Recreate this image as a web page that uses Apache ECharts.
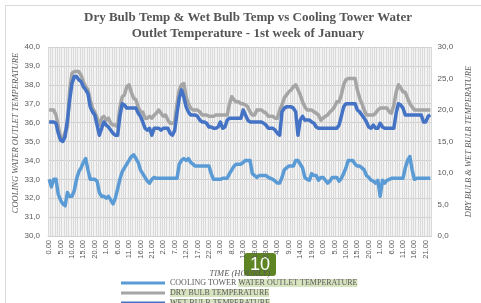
<!DOCTYPE html>
<html>
<head>
<meta charset="utf-8">
<script src="https://cdn.jsdelivr.net/npm/echarts@6/dist/echarts.min.js"></script>
<style>
  html, body { margin: 0; padding: 0; background: #fff; }
  #chart { width: 481px; height: 303px; }
</style>
</head>
<body>
<div id="chart"></div>
<script>
// hourly labels, one week
const hours = ['0.00', '1.00', '2.00', '3.00', '4.00', '5.00', '6.00', '7.00', '8.00', '9.00', '10.00', '11.00',
  '12.00', '13.00', '14.00', '15.00', '16.00', '17.00', '18.00', '19.00', '20.00', '21.00', '22.00', '23.00']
const days = 7

// cooling tower water outlet temperature (left axis)
const coolingTower = [
  33.0, 32.6, 33.0, 33.0, 32.2, 31.9, 31.7, 31.6, 32.3, 32.1,
  32.1, 32.4, 33.0, 33.4, 33.6, 33.9, 34.1, 33.5, 33.0, 33.0,
  33.0, 32.9, 32.3, 32.1, 32.1, 32.0, 32.1, 31.9, 31.7, 32.0,
  32.5, 33.0, 33.4, 33.6, 33.8, 34.0, 34.2, 34.3, 34.1, 33.9,
  33.5, 33.3, 33.1, 32.9, 32.8, 33.0, 33.1, 33.05, 33.05, 33.05,
  33.05, 33.05, 33.05, 33.05, 33.05, 33.05, 33.05, 33.8, 34.0, 34.1,
  34.0, 34.1, 33.9, 33.8, 33.7, 33.7, 33.7, 33.7, 33.7, 33.7,
  33.7, 33.3, 33.0, 33.0, 33.0, 33.0, 33.05, 33.05, 33.05, 33.3,
  33.5, 33.7, 33.8, 33.8, 33.8, 33.9, 34.0, 34.0, 34.0, 33.3,
  33.2, 33.1, 33.2, 33.2, 33.2, 33.2, 33.1, 33.05, 33.0, 32.9,
  32.8, 32.8, 33.1, 33.5, 33.6, 33.7, 33.7, 33.7, 34.0, 34.0,
  33.8, 33.6, 33.1, 33.0, 32.95, 33.3, 33.2, 33.2, 32.95, 33.1,
  33.1, 32.95, 32.8, 32.9, 33.1, 33.1, 33.1, 32.9, 33.05, 33.3,
  33.6, 34.0, 34.0, 34.0, 33.8, 33.7, 33.7, 33.6, 33.5, 33.2,
  33.1, 32.95, 32.9, 32.8, 32.95, 32.1, 32.95, 32.8, 32.95, 33.0,
  33.05, 33.05, 33.05, 33.05, 33.05, 33.05, 33.6, 34.0, 34.2, 33.5,
  33.0, 33.05, 33.05, 33.05, 33.05, 33.05, 33.05, 33.05
]

// dry bulb temperature (right axis)
const dryBulb = [
  20.0, 20.0, 20.0, 19.2, 17.5, 15.5, 15.4, 16.5, 17.3, 23.2,
  25.8, 26.1, 26.1, 26.1, 25.5, 24.5, 23.7, 23.2, 21.6, 20.3,
  19.7, 18.7, 17.6, 18.7, 19.0, 18.4, 18.7, 17.9, 17.6, 17.6,
  17.3, 20.5, 22.1, 22.4, 23.7, 24.0, 22.8, 21.9, 21.6, 20.5,
  19.7, 19.7, 18.7, 18.7, 19.0, 18.7, 19.2, 19.5, 20.0, 19.5,
  19.0, 19.2, 18.4, 17.9, 17.9, 18.1, 21.0, 23.2, 24.0, 24.2,
  22.1, 21.0, 20.3, 20.0, 20.0, 20.0, 19.7, 19.2, 19.2, 19.2,
  19.0, 19.0, 19.0, 19.2, 19.2, 19.2, 19.2, 19.2, 19.2, 21.0,
  22.1, 21.6, 21.3, 21.3, 21.0, 21.0, 20.8, 20.5, 19.7, 19.2,
  19.2, 20.0, 20.0, 20.0, 19.7, 19.5, 19.0, 19.0, 19.0, 18.7,
  18.7, 20.0, 20.8, 21.9, 22.4, 22.9, 23.2, 23.7, 24.0, 23.2,
  22.4, 21.3, 20.5, 20.0, 20.0, 20.0, 19.7, 19.5, 19.2, 18.4,
  18.7, 19.0, 19.2, 19.7, 20.0, 20.5, 21.3, 21.3, 22.4, 24.0,
  24.8, 25.0, 25.0, 25.0, 25.0, 23.2, 21.9, 21.0, 20.0, 19.2,
  19.2, 19.2, 19.2, 19.5, 20.0, 20.3, 20.3, 20.3, 20.3, 19.7,
  19.5, 20.8, 22.8, 24.0, 23.5, 22.9, 22.8, 21.9, 21.0, 20.5,
  20.0, 20.0, 20.0, 20.0, 20.0, 20.0, 20.0, 20.0
]

// wet bulb temperature (right axis)
const wetBulb = [
  18.1, 18.1, 18.1, 17.9, 16.3, 15.2, 15.0, 15.8, 18.4, 21.6,
  24.2, 25.3, 25.3, 24.8, 24.5, 23.7, 23.2, 22.6, 20.5, 19.7,
  19.2, 17.6, 16.0, 17.1, 18.1, 17.6, 17.3, 16.8, 16.3, 16.0,
  16.0, 19.0, 21.0, 20.8, 20.3, 20.3, 20.3, 20.3, 20.3, 19.5,
  19.0, 18.1, 17.1, 16.8, 17.1, 16.0, 17.1, 17.1, 17.1, 16.8,
  17.1, 17.1, 17.1, 16.3, 16.0, 16.8, 19.5, 21.9, 23.2, 22.1,
  20.5, 19.7, 19.2, 19.2, 19.2, 19.0, 18.4, 18.1, 18.1, 17.9,
  17.3, 17.3, 17.1, 17.1, 17.3, 18.1, 17.1, 17.3, 18.4, 18.7,
  18.7, 18.7, 18.7, 18.7, 18.7, 20.0, 19.2, 18.4, 18.1, 18.1,
  18.1, 18.1, 18.1, 18.1, 17.9, 17.6, 17.1, 17.1, 17.1, 16.8,
  16.3, 16.0, 19.7, 20.3, 20.5, 20.5, 20.5, 20.3, 19.7, 16.0,
  18.4, 19.0, 18.4, 18.4, 18.4, 18.1, 17.9, 17.3, 17.1, 17.1,
  17.1, 17.1, 17.1, 17.1, 17.1, 17.1, 17.1, 17.6, 19.0, 20.5,
  21.0, 21.0, 21.0, 21.0, 21.0, 20.0, 19.7, 19.2, 18.7, 18.1,
  17.3, 17.1, 17.6, 17.1, 17.1, 17.9, 17.3, 17.1, 17.1, 17.1,
  17.1, 17.1, 19.5, 21.0, 20.8, 20.3, 19.2, 19.2, 19.2, 19.2,
  19.2, 19.2, 19.2, 19.2, 18.1, 18.1, 19.0, 19.2
]

const categories = []
for (let d = 0; d < days; d++) categories.push(...hours)

const textColor = '#595959'
const nameFont = { fontFamily: 'Liberation Serif', fontStyle: 'italic', fontSize: 8.5, color: textColor }

const chart = echarts.init(document.getElementById('chart'), null, { renderer: 'canvas' })

const option = {
  backgroundColor: '#fff',
  animation: false,
  graphic: [
    {
      type: 'rect',
      shape: { x: 5.5, y: 5.5, width: 490, height: 320 },
      style: { fill: 'none', stroke: '#d9d9d9', lineWidth: 1 },
      silent: true
    },
    {
      type: 'text',
      x: 248, y: 10,
      style: {
        text: 'Dry Bulb Temp & Wet Bulb Temp vs Cooling Tower Water\nOutlet Temperature - 1st week of January',
        align: 'center', verticalAlign: 'top',
        font: 'bold 13px "Liberation Serif"', lineHeight: 16, fill: '#555'
      }
    },
    {
      // 左轴标题，位置比轴中心略高
      type: 'text',
      x: 16, y: 133, rotation: Math.PI / 2,
      style: {
        text: 'COOLING WATER OUTLET TEMPERATURE',
        align: 'center', verticalAlign: 'middle',
        font: 'italic 8.5px "Liberation Serif"', fill: textColor
      }
    },
    {
      // 角标
      type: 'group', x: 244, y: 253, z: 100,
      children: [
        { type: 'rect', shape: { x: 0, y: 0, width: 32, height: 23, r: 3 }, style: { fill: '#5e8424' } },
        { type: 'text', x: 16, y: 12, style: { text: '10', align: 'center', verticalAlign: 'middle', font: '18px "Liberation Sans"', fill: '#fff' } }
      ]
    }
  ],
  grid: {
    left: 48, right: 34, top: 47, bottom: 67,
    show: true, backgroundColor: '#f3f3f3', borderWidth: 0
  },
  legend: {
    orient: 'vertical',
    left: 116, top: 273, height: 60,
    icon: 'rect',
    itemWidth: 44, itemHeight: 3, itemGap: 0,
    textStyle: {
      fontFamily: 'Liberation Serif', fontSize: 8, color: textColor, lineHeight: 10,
      rich: {
        n: { fontFamily: 'Liberation Serif', fontSize: 8, color: textColor, lineHeight: 10 },
        h: { fontFamily: 'Liberation Serif', fontSize: 8, color: textColor, lineHeight: 10, backgroundColor: '#d8e4c0' }
      }
    },
    formatter: function (name) {
      if (name.indexOf('COOLING') === 0) return '{n|COOLING TOWER }{h|WATER OUTLET TEMPERATURE}'
      return '{h|' + name + '}'
    }
  },
  xAxis: {
    type: 'category',
    data: categories,
    boundaryGap: true,
    name: 'TIME (HOURLY)',
    nameLocation: 'middle',
    nameGap: 33,
    nameTextStyle: nameFont,
    axisLine: { show: true, lineStyle: { color: '#d0d0d0' } },
    axisTick: { show: false },
    axisLabel: {
      interval: 4, rotate: 90, margin: 4,
      fontFamily: 'Liberation Sans', fontSize: 7.5, color: textColor
    },
    splitLine: { show: true, interval: 0, lineStyle: { color: '#dadada', width: 1 } }
  },
  yAxis: [
    {
      type: 'value', min: 30, max: 40, interval: 1,
      axisLine: { show: false }, axisTick: { show: false },
      axisLabel: {
        margin: 8, fontFamily: 'Liberation Sans', fontSize: 8, color: textColor,
        formatter: v => v.toFixed(1).replace('.', ',')
      },
      splitLine: { show: true, lineStyle: { color: '#cccccc', width: 1 } }
    },
    {
      type: 'value', min: 0, max: 30, interval: 5,
      name: 'DRY BULB & WET BULB TEMPERATURE',
      nameLocation: 'middle', nameGap: 27, nameRotate: 90,
      nameTextStyle: nameFont,
      axisLine: { show: false }, axisTick: { show: false },
      axisLabel: {
        margin: 6, fontFamily: 'Liberation Sans', fontSize: 8, color: textColor,
        formatter: v => v.toFixed(1).replace('.', ',')
      },
      splitLine: { show: false }
    }
  ],
  series: [
    {
      name: 'COOLING TOWER WATER OUTLET TEMPERATURE',
      type: 'line', yAxisIndex: 0, data: coolingTower,
      symbol: 'none', lineStyle: { color: '#5b9bd5', width: 3.5, join: 'round' },
      itemStyle: { color: '#5b9bd5' }
    },
    {
      name: 'DRY BULB TEMPERATURE',
      type: 'line', yAxisIndex: 1, data: dryBulb,
      symbol: 'none', lineStyle: { color: '#a5a5a5', width: 3.5, join: 'round' },
      itemStyle: { color: '#a5a5a5' }
    },
    {
      name: 'WET BULB TEMPERATURE',
      type: 'line', yAxisIndex: 1, data: wetBulb,
      symbol: 'none', lineStyle: { color: '#4472c4', width: 3.5, join: 'round' },
      itemStyle: { color: '#4472c4' }
    }
  ]
}

chart.setOption(option)
</script>
</body>
</html>
